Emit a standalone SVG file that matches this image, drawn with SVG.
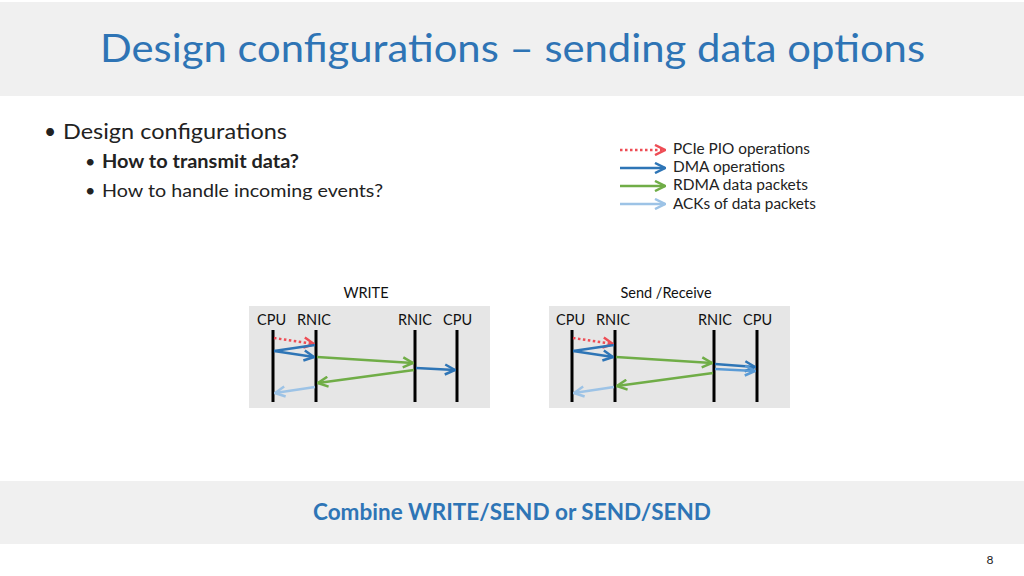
<svg xmlns="http://www.w3.org/2000/svg" width="1024" height="576" viewBox="0 0 1024 576">
<style>
text{font-family:Lato,"Open Sans","Liberation Sans",sans-serif;}
.title{font-size:38px;fill:#2e74b5;}
.b1{font-size:21px;fill:#222;}
.b2{font-size:18px;fill:#222;}
.leg{font-size:14.5px;fill:#222;}
.lab{font-size:14.5px;fill:#111;}
.life{stroke:#000;stroke-width:3;}
.pio{stroke:#ee4d55;stroke-width:2.5;stroke-dasharray:2.5 2.5;fill:none;}
.dma{stroke:#2e75b6;stroke-width:2.5;fill:none;}
.dma2{stroke:#5a9bd6;stroke-width:2.5;fill:none;}
.rdma{stroke:#70ad47;stroke-width:2.5;fill:none;}
.ack{stroke:#9dc3e6;stroke-width:2.5;fill:none;}
</style>
<defs>
<marker id="mR" viewBox="0 0 10 10" refX="9" refY="5" markerWidth="5" markerHeight="5" orient="auto" markerUnits="strokeWidth"><path d="M1,1 L9,5 L1,9" fill="none" stroke="#ee4d55" stroke-width="2"/></marker>
<marker id="mB" viewBox="0 0 10 10" refX="9" refY="5" markerWidth="5" markerHeight="5" orient="auto" markerUnits="strokeWidth"><path d="M1,1 L9,5 L1,9" fill="none" stroke="#2e75b6" stroke-width="2"/></marker>
<marker id="mB2" viewBox="0 0 10 10" refX="9" refY="5" markerWidth="5" markerHeight="5" orient="auto" markerUnits="strokeWidth"><path d="M1,1 L9,5 L1,9" fill="none" stroke="#5a9bd6" stroke-width="2"/></marker>
<marker id="mG" viewBox="0 0 10 10" refX="9" refY="5" markerWidth="5" markerHeight="5" orient="auto" markerUnits="strokeWidth"><path d="M1,1 L9,5 L1,9" fill="none" stroke="#70ad47" stroke-width="2"/></marker>
<marker id="mL" viewBox="0 0 10 10" refX="9" refY="5" markerWidth="5" markerHeight="5" orient="auto" markerUnits="strokeWidth"><path d="M1,1 L9,5 L1,9" fill="none" stroke="#9dc3e6" stroke-width="2"/></marker>
</defs>
<rect width="1024" height="576" fill="#ffffff"/>
<g id="title">
<rect x="0" y="2" width="1024" height="94" fill="#f0f0f0"/>
<text class="title" x="100" y="62" textLength="825" lengthAdjust="spacingAndGlyphs">Design configurations – sending data options</text>
</g>
<g id="bullets">
<text class="b1" x="44" y="139">•</text>
<text class="b1" x="63" y="139" textLength="224" lengthAdjust="spacingAndGlyphs">Design configurations</text>
<text class="b2" x="85" y="168">•</text>
<text class="b2" x="102" y="168" font-weight="bold" textLength="197" lengthAdjust="spacingAndGlyphs">How to transmit data?</text>
<text class="b2" x="85" y="197">•</text>
<text class="b2" x="102" y="197" textLength="281" lengthAdjust="spacingAndGlyphs">How to handle incoming events?</text>
</g>
<g id="legend">
<line class="pio" x1="620" y1="150" x2="665" y2="150" marker-end="url(#mR)"/>
<line class="dma" x1="620" y1="168" x2="665" y2="168" marker-end="url(#mB)"/>
<line class="rdma" x1="620" y1="186" x2="665" y2="186" marker-end="url(#mG)"/>
<line class="ack" x1="620" y1="204" x2="665" y2="204" marker-end="url(#mL)"/>
<text class="leg" x="673" y="154" textLength="137" lengthAdjust="spacingAndGlyphs">PCIe PIO operations</text>
<text class="leg" x="673" y="172" textLength="112" lengthAdjust="spacingAndGlyphs">DMA operations</text>
<text class="leg" x="673" y="190" textLength="135" lengthAdjust="spacingAndGlyphs">RDMA data packets</text>
<text class="leg" x="673" y="209" textLength="143" lengthAdjust="spacingAndGlyphs">ACKs of data packets</text>
</g>
<g id="write-panel">
<text class="lab" x="366" y="298" text-anchor="middle" font-size="15">WRITE</text>
<rect x="249" y="306" width="241" height="102" fill="#e6e6e6"/>
<text class="lab" x="257" y="325">CPU</text>
<text class="lab" x="297" y="325">RNIC</text>
<text class="lab" x="398" y="325">RNIC</text>
<text class="lab" x="443" y="325">CPU</text>
<line class="life" x1="273" y1="330" x2="273" y2="402"/>
<line class="life" x1="316" y1="330" x2="316" y2="402"/>
<line class="life" x1="415" y1="330" x2="415" y2="402"/>
<line class="life" x1="457" y1="330" x2="457" y2="402"/>
</g>
<g id="send-panel">
<text class="lab" x="666" y="298" text-anchor="middle" font-size="15">Send /Receive</text>
<rect x="549" y="306" width="241" height="102" fill="#e6e6e6"/>
<text class="lab" x="556" y="325">CPU</text>
<text class="lab" x="596" y="325">RNIC</text>
<text class="lab" x="698" y="325">RNIC</text>
<text class="lab" x="743" y="325">CPU</text>
<line class="life" x1="572" y1="330" x2="572" y2="402"/>
<line class="life" x1="615" y1="330" x2="615" y2="402"/>
<line class="life" x1="714" y1="330" x2="714" y2="402"/>
<line class="life" x1="757" y1="330" x2="757" y2="402"/>
</g>
<g id="connectors">
<line class="pio" x1="274" y1="338" x2="314" y2="344" marker-end="url(#mR)"/>
<line class="dma" x1="274" y1="351" x2="315" y2="345"/>
<line class="dma" x1="274" y1="351" x2="314" y2="357" marker-end="url(#mB)"/>
<line class="rdma" x1="317" y1="357" x2="413" y2="363" marker-end="url(#mG)"/>
<line class="dma" x1="416" y1="368" x2="455" y2="370" marker-end="url(#mB)"/>
<line class="rdma" x1="414" y1="370" x2="318" y2="383" marker-end="url(#mG)"/>
<line class="ack" x1="315" y1="387" x2="275" y2="393" marker-end="url(#mL)"/>

<line class="pio" x1="573" y1="338" x2="613" y2="344" marker-end="url(#mR)"/>
<line class="dma" x1="573" y1="351" x2="614" y2="345"/>
<line class="dma" x1="573" y1="351" x2="613" y2="357" marker-end="url(#mB)"/>
<line class="rdma" x1="616" y1="357" x2="712" y2="363" marker-end="url(#mG)"/>
<line class="dma" x1="715" y1="364" x2="755" y2="367" marker-end="url(#mB)"/>
<line class="dma2" x1="715" y1="369" x2="755" y2="371" marker-end="url(#mB2)"/>
<line class="rdma" x1="713" y1="373" x2="617" y2="386" marker-end="url(#mG)"/>
<line class="ack" x1="614" y1="387" x2="574" y2="393" marker-end="url(#mL)"/>
</g>
<g id="footer">
<rect x="0" y="481" width="1024" height="63" fill="#f0f0f0"/>
<text x="512" y="520" text-anchor="middle" font-size="22" font-weight="bold" fill="#2e75b6" textLength="398" lengthAdjust="spacingAndGlyphs">Combine WRITE/SEND or SEND/SEND</text>
<text x="990" y="564" text-anchor="middle" font-size="12" fill="#222">8</text>
</g>
</svg>
